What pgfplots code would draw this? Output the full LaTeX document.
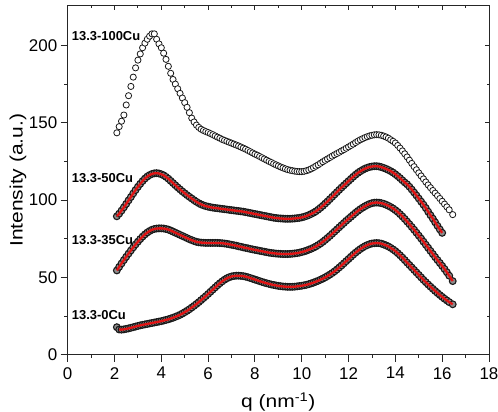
\documentclass[border=0pt]{standalone}
\usepackage{pgfplots}
\pgfplotsset{compat=1.18}
\usepackage{pgfplotstable}
\usepackage{fontspec}
\setmainfont{Liberation Sans}

\pgfplotstableread{
x y
2.1 143.5
2.2 147.5
2.3 151
2.4 155
2.5 161.5
2.6 167.5
2.7 173.5
2.8 179.5
2.9 185.5
3.0 190.5
3.1 194.5
3.2 198.5
3.3 201.5
3.4 204
3.5 206
3.6 207.5
3.7 207.5
3.8 204
3.9 201
4.0 198.5
4.1 195
4.2 191
4.3 186.5
4.4 182
4.5 178
4.6 175
4.7 172
4.8 169
4.9 166
5.0 163
5.1 160
5.2 156.5
5.3 153
5.4 150.5
5.5 148.5
5.6 147
5.7 145.8
5.8 145
5.9 144.3
6.0 143.7
6.1 143
6.2 142.3
6.3 141.5
6.4 140.7
6.5 140
6.6 139.2
6.7 138.6
6.8 138
6.9 137.4
7.0 136.8
7.1 136.2
7.2 135.6
7.3 135
7.4 134.3
7.5 133.6
7.6 132.9
7.7 132.1
7.8 131.3
7.9 130.5
8.0 129.7
8.1 129
8.2 128.2
8.3 127.4
8.4 126.6
8.5 125.8
8.6 125
8.7 124.3
8.8 123.5
8.9 122.8
9.0 122.1
9.1 121.4
9.2 120.8
9.3 120.2
9.4 119.7
9.5 119.3
9.6 119
9.7 118.7
9.8 118.5
9.9 118.4
10.0 118.4
10.1 118.6
10.2 119
10.3 119.5
10.4 120.2
10.5 121
10.6 121.9
10.7 122.8
10.8 123.8
10.9 124.8
11.0 125.7
11.1 126.6
11.2 127.5
11.3 128.4
11.4 129.3
11.5 130.1
11.6 130.9
11.7 131.8
11.8 132.6
11.9 133.5
12.0 134.4
12.1 135.3
12.2 136.2
12.3 137.2
12.4 138.1
12.5 139
12.6 139.7
12.7 140.4
12.8 141
12.9 141.5
13.0 141.9
13.1 142.2
13.2 142.3
13.3 142.2
13.4 141.9
13.5 141.4
13.6 140.8
13.7 140
13.8 139
13.9 138
14.0 136.9
14.1 135.3
14.2 133.6
14.3 131.8
14.4 129.9
14.5 127.9
14.6 125.8
14.7 123.7
14.8 121.6
14.9 119.6
15.0 117.6
15.1 115.6
15.2 113.7
15.3 111.7
15.4 109.8
15.5 108
15.6 106.2
15.7 104.5
15.8 102.8
15.9 101
16.0 99.2
16.1 97.4
16.2 95.6
16.3 93.7
16.45 90.6
}\cuA

\pgfplotstableread{
x y
2.1 89.5
2.2 91.2
2.3 93.2
2.4 95.3
2.5 97.5
2.6 99.8
2.7 102
2.8 104.3
2.9 106.5
3.0 108.6
3.1 110.5
3.2 112.3
3.3 113.9
3.4 115.2
3.5 116.2
3.6 116.9
3.7 117.3
3.8 117.4
3.9 117.2
4.0 116.7
4.1 116
4.2 115
4.3 113.8
4.4 112.4
4.5 111
4.6 109.6
4.7 108.2
4.8 106.9
4.9 105.6
5.0 104.4
5.1 103.2
5.2 102.1
5.3 101
5.4 99.9
5.5 98.9
5.6 98
5.7 97.2
5.8 96.6
5.9 96.1
6.0 95.7
6.1 95.4
6.2 95.1
6.3 94.9
6.4 94.7
6.5 94.5
6.6 94.3
6.7 94.1
6.8 93.9
6.9 93.7
7.0 93.5
7.1 93.3
7.2 93.1
7.3 92.9
7.4 92.7
7.5 92.5
7.6 92.2
7.7 91.9
7.8 91.6
7.9 91.3
8.0 91
8.1 90.7
8.2 90.4
8.3 90.1
8.4 89.8
8.5 89.5
8.6 89.2
8.7 88.9
8.8 88.6
8.9 88.4
9.0 88.2
9.1 88.1
9.2 88
9.3 87.9
9.4 87.9
9.5 87.9
9.6 88
9.7 88.1
9.8 88.3
9.9 88.5
10.0 88.8
10.1 89.2
10.2 89.7
10.3 90.3
10.4 91
10.5 91.8
10.6 92.7
10.7 93.8
10.8 95
10.9 96.3
11.0 97.7
11.1 99.1
11.2 100.6
11.3 102.1
11.4 103.6
11.5 105.1
11.6 106.6
11.7 108.1
11.8 109.5
11.9 110.9
12.0 112.3
12.1 113.7
12.2 115.1
12.3 116.4
12.4 117.6
12.5 118.6
12.6 119.5
12.7 120.3
12.8 120.9
12.9 121.4
13.0 121.7
13.1 121.9
13.2 121.9
13.3 121.7
13.4 121.3
13.5 120.8
13.6 120.2
13.7 119.5
13.8 118.7
13.9 117.8
14.0 116.7
14.1 115.5
14.2 114.2
14.3 112.8
14.4 111.4
14.5 110.2
14.6 108.6
14.7 106.8
14.8 104.9
14.9 103
15.0 101
15.1 99
15.2 97
15.3 94.8
15.4 92.5
15.5 90.2
15.6 88
15.7 85.6
15.8 83.3
15.9 81
16.0 78.8
}\cuB

\pgfplotstableread{
x y
2.1 54.5
2.2 56.8
2.3 59
2.4 61.2
2.5 63.3
2.6 65.4
2.7 67.4
2.8 69.4
2.9 71.3
3.0 73.1
3.1 74.8
3.2 76.4
3.3 77.8
3.4 79
3.5 80
3.6 80.8
3.7 81.3
3.8 81.6
3.9 81.7
4.0 81.7
4.1 81.6
4.2 81.3
4.3 80.9
4.4 80.3
4.5 79.6
4.6 78.9
4.7 78.2
4.8 77.5
4.9 76.8
5.0 76.1
5.1 75.4
5.2 74.7
5.3 74.1
5.4 73.5
5.5 73
5.6 72.7
5.7 72.5
5.8 72.4
5.9 72.3
6.0 72.3
6.1 72.3
6.2 72.3
6.3 72.3
6.4 72.3
6.5 72.2
6.6 72.1
6.7 71.9
6.8 71.7
6.9 71.4
7.0 71.1
7.1 70.8
7.2 70.5
7.3 70.1
7.4 69.8
7.5 69.4
7.6 69.1
7.7 68.8
7.8 68.4
7.9 68.1
8.0 67.8
8.1 67.5
8.2 67.2
8.3 66.9
8.4 66.6
8.5 66.3
8.6 66
8.7 65.8
8.8 65.6
8.9 65.4
9.0 65.3
9.1 65.2
9.2 65.1
9.3 65.1
9.4 65.1
9.5 65.2
9.6 65.3
9.7 65.5
9.8 65.7
9.9 66
10.0 66.4
10.1 66.8
10.2 67.3
10.3 67.9
10.4 68.5
10.5 69.2
10.6 70
10.7 70.9
10.8 71.9
10.9 73
11.0 74.2
11.1 75.5
11.2 76.8
11.3 78.2
11.4 79.6
11.5 81
11.6 82.4
11.7 83.8
11.8 85.2
11.9 86.6
12.0 87.9
12.1 89.2
12.2 90.5
12.3 91.8
12.4 93
12.5 94.1
12.6 95.1
12.7 96
12.8 96.8
12.9 97.5
13.0 98
13.1 98.3
13.2 98.4
13.3 98.3
13.4 98
13.5 97.6
13.6 97
13.7 96.3
13.8 95.5
13.9 94.6
14.0 93.5
14.1 92.3
14.2 90.9
14.3 89.4
14.4 87.8
14.5 86.1
14.6 84.4
14.7 82.6
14.8 80.8
14.9 78.9
15.0 77
15.1 75.1
15.2 73.1
15.3 71.1
15.4 69.1
15.5 67.1
15.6 65.1
15.7 63.1
15.8 61.2
15.9 59.3
16.0 57.4
16.1 55.4
16.2 53.3
16.3 51.1
16.45 47.6
}\cuC

\pgfplotstableread{
x y
2.1 17.8
2.2 16.3
2.3 16.2
2.4 16.4
2.5 16.7
2.6 17
2.7 17.4
2.8 17.8
2.9 18.2
3.0 18.6
3.1 19
3.2 19.3
3.3 19.6
3.4 19.9
3.5 20.2
3.6 20.5
3.7 20.8
3.8 21.1
3.9 21.4
4.0 21.7
4.1 22.1
4.2 22.5
4.3 22.9
4.4 23.4
4.5 23.9
4.6 24.5
4.7 25.1
4.8 25.8
4.9 26.6
5.0 27.5
5.1 28.4
5.2 29.4
5.3 30.5
5.4 31.6
5.5 32.8
5.6 34
5.7 35.3
5.8 36.6
5.9 37.9
6.0 39.3
6.1 40.7
6.2 42.1
6.3 43.5
6.4 44.9
6.5 46.2
6.6 47.4
6.7 48.5
6.8 49.4
6.9 50.1
7.0 50.6
7.1 50.9
7.2 51.1
7.3 51.1
7.4 51
7.5 50.8
7.6 50.5
7.7 50.1
7.8 49.6
7.9 49.1
8.0 48.6
8.1 48.1
8.2 47.6
8.3 47.1
8.4 46.6
8.5 46.2
8.6 45.8
8.7 45.4
8.8 45.1
8.9 44.8
9.0 44.5
9.1 44.3
9.2 44.1
9.3 44
9.4 43.9
9.5 43.9
9.6 43.9
9.7 44
9.8 44.2
9.9 44.4
10.0 44.6
10.1 44.9
10.2 45.2
10.3 45.6
10.4 46.1
10.5 46.6
10.6 47.2
10.7 47.8
10.8 48.5
10.9 49.2
11.0 50
11.1 50.9
11.2 51.8
11.3 52.8
11.4 53.9
11.5 55.1
11.6 56.4
11.7 57.7
11.8 59.1
11.9 60.5
12.0 61.9
12.1 63.3
12.2 64.7
12.3 66
12.4 67.2
12.5 68.3
12.6 69.3
12.7 70.2
12.8 70.9
12.9 71.5
13.0 71.9
13.1 72.1
13.2 72.2
13.3 72.1
13.4 71.8
13.5 71.3
13.6 70.7
13.7 70
13.8 69.1
13.9 68.1
14.0 67
14.1 65.7
14.2 64.3
14.3 62.8
14.4 61.2
14.5 59.6
14.6 58
14.7 56.4
14.8 54.8
14.9 53.2
15.0 51.6
15.1 50
15.2 48.4
15.3 46.9
15.4 45.4
15.5 44
15.6 42.6
15.7 41.2
15.8 39.9
15.9 38.6
16.0 37.4
16.1 36.2
16.2 35.1
16.3 34
16.45 32.6
}\cuD

\definecolor{fitred}{RGB}{225,20,20}
\definecolor{edge}{RGB}{25,25,25}

\begin{document}
\begin{tikzpicture}
\pgfplotsset{
  common/.style={
    width=421.3bp, height=349bp, scale only axis,
    at={(0,0)}, anchor=south west,
    xmin=0, xmax=18, ymin=0, ymax=225.7,
    xtick={0,2,...,18}, ytick={0,50,...,200},
    minor x tick num=1, minor y tick num=1,
    axis line style={line width=0.9pt, black!85},
    every tick/.style={line width=0.9pt, black!85},
  },
  band/.style={only marks, mark=*, mark size=3.4pt, mark options={draw=edge, fill=black!45, line width=1.1pt}},
}
\begin{axis}[common,
  clip marker paths=true,
  tick align=outside,
  xtick pos=left, ytick pos=left,
  major tick length=7bp, minor tick length=3.5bp,
  /pgf/number format/assume math mode=true,
  tick label style={font=\fontsize{17}{20}\selectfont},
  xticklabel style={yshift=-2bp},
  xlabel={\scalebox{1.17}[1]{q (nm\textsuperscript{-1})}},
  ylabel={\scalebox{1.17}[1]{Intensity (a.u.)}},
  every axis x label/.style={at={(rel axis cs:0.5,0)}, yshift=-53bp, anchor=base, font=\fontsize{18}{21}\selectfont},
  every axis y label/.style={at={(rel axis cs:0,0.5)}, xshift=-49.7bp, rotate=90, anchor=center, font=\fontsize{18}{21}\selectfont},
]
\addplot[only marks, mark=*, mark size=3.1pt, mark options={draw=edge, fill=white, line width=0.8pt}] table {\cuA};
\addplot[band] table {\cuB};
\addplot[no marks, fitred, line width=2.3pt, smooth] table {\cuB};
\addplot[band] table {\cuC};
\addplot[no marks, fitred, line width=2.3pt, smooth] table {\cuC};
\addplot[band] table {\cuD};
\addplot[no marks, fitred, line width=2.3pt, smooth, restrict x to domain=2.15:17] table {\cuD};
\node[anchor=west, font=\fontsize{13}{15}\selectfont\bfseries, inner sep=0pt] at (axis cs:0.17,206) {13.3-100Cu};
\node[anchor=west, font=\fontsize{13}{15}\selectfont\bfseries, inner sep=0pt] at (axis cs:0.17,114) {13.3-50Cu};
\node[anchor=west, font=\fontsize{13}{15}\selectfont\bfseries, inner sep=0pt] at (axis cs:0.17,74.2) {13.3-35Cu};
\node[anchor=west, font=\fontsize{13}{15}\selectfont\bfseries, inner sep=0pt] at (axis cs:0.17,25.7) {13.3-0Cu};
\end{axis}
\begin{axis}[common,
  tick align=inside,
  xtick pos=right, ytick pos=right,
  major tick length=4.5bp, minor tick length=2.5bp,
  xticklabels={}, yticklabels={},
]
\end{axis}
\pgfresetboundingbox
\useasboundingbox (-67.7bp,-57.3bp) rectangle (430.3bp,354.7bp);
\end{tikzpicture}
\end{document}
